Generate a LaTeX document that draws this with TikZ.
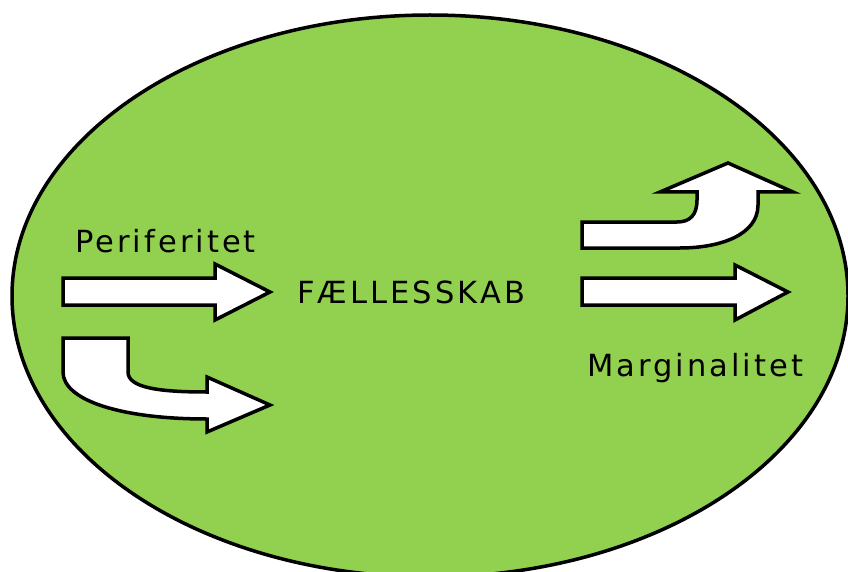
\documentclass[tikz,border=0pt]{standalone}
\usepackage{fontspec}
\setmainfont{DejaVu Sans}
\definecolor{ovalgreen}{RGB}{146,208,80}
\begin{document}
\begin{tikzpicture}[x=1pt,y=-1pt,
  arrowshape/.style={draw=black,fill=white,line width=3.5pt,line join=miter},
  lbl/.style={anchor=base west,inner sep=0pt,font=\fontsize{30.5}{36}\selectfont\addfontfeature{LetterSpace=10}}]
\useasboundingbox (0,0) rectangle (848,572);
\clip (0,0) rectangle (848,572);
\fill[white] (0,0) rectangle (848,572);
\draw[fill=ovalgreen,line width=3.5pt] (430,296) ellipse [x radius=418,y radius=281];
% straight arrow left
\draw[arrowshape] (63,278) -- (215,278) -- (215,264) -- (270,292) -- (215,320) -- (215,305) -- (63,305) -- cycle;
% bent arrow left (down then right)
\draw[arrowshape] (63,338) -- (128,338) -- (128,372)
  .. controls (128,388) and (160,392) .. (207,392)
  -- (207,377) -- (270,405) -- (207,432) -- (207,419)
  .. controls (120,419) and (63,400) .. (63,372) -- cycle;
% curved arrow right (right then up)
\draw[arrowshape] (582,222) -- (677,222)
  .. controls (690,222) and (697,215) .. (697,200)
  -- (697,192) -- (660,192) -- (728,163) -- (793,192) -- (758,192) -- (758,205)
  .. controls (758,235) and (720,248) .. (680,248)
  -- (582,248) -- cycle;
% straight arrow right
\draw[arrowshape] (582,278) -- (735,278) -- (735,265) -- (788,292) -- (735,320) -- (735,305) -- (582,305) -- cycle;
\node[lbl] (per) at (75,252) {Periferitet};
\node[lbl] (fael) at (297,303) {FÆLLESSKAB};
\node[lbl] (marg) at (587,376) {Marginalitet};
\end{tikzpicture}
\end{document}
